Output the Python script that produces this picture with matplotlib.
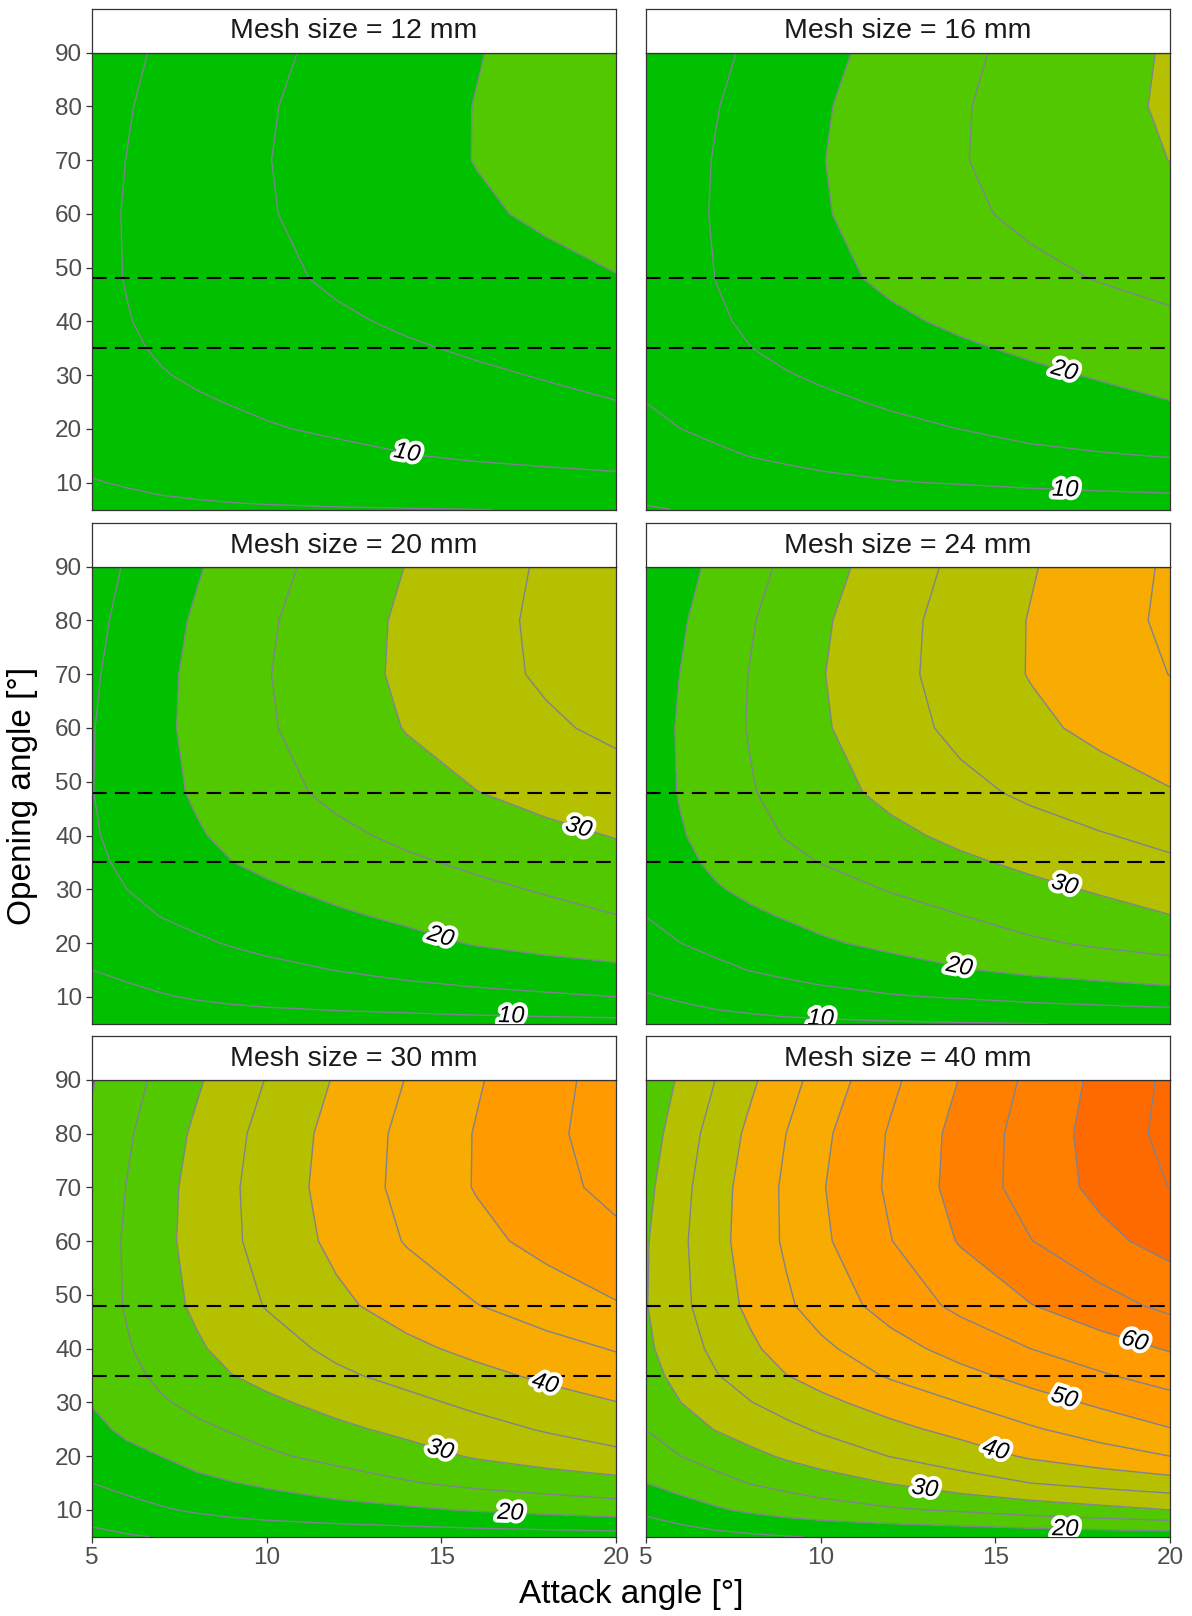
import matplotlib
matplotlib.use("Agg")
import matplotlib.pyplot as plt
import matplotlib.patheffects as pe
import numpy as np

plt.rcParams['font.family'] = ['Liberation Sans', 'DejaVu Sans']

# ---- data ----
mesh_sizes = [12, 16, 20, 24, 30, 40]
attack_angles = [5, 6, 7, 8, 9, 10, 12, 14, 16, 18, 20]
opening_angles = [5, 10, 15, 20, 25, 30, 35, 40, 48, 60, 70, 80, 90]

# contour value per mm of mesh size; rows = opening angle, cols = attack angle
value_per_mm = [
    [0.295, 0.320, 0.340, 0.355, 0.370, 0.380, 0.395, 0.405, 0.415, 0.422, 0.430],
    [0.400, 0.440, 0.485, 0.520, 0.550, 0.575, 0.610, 0.640, 0.680, 0.715, 0.750],
    [0.500, 0.550, 0.590, 0.630, 0.660, 0.690, 0.755, 0.820, 0.875, 0.915, 0.950],
    [0.565, 0.625, 0.668, 0.720, 0.765, 0.808, 0.878, 0.940, 1.015, 1.070, 1.125],
    [0.627, 0.697, 0.755, 0.803, 0.845, 0.889, 0.967, 1.037, 1.111, 1.180, 1.245],
    [0.675, 0.750, 0.818, 0.872, 0.923, 0.970, 1.052, 1.126, 1.203, 1.270, 1.330],
    [0.705, 0.790, 0.868, 0.935, 0.997, 1.045, 1.138, 1.215, 1.290, 1.362, 1.430],
    [0.727, 0.820, 0.902, 0.978, 1.051, 1.100, 1.203, 1.295, 1.375, 1.445, 1.510],
    [0.745, 0.846, 0.941, 1.028, 1.106, 1.175, 1.299, 1.403, 1.495, 1.576, 1.655],
    [0.740, 0.853, 0.959, 1.056, 1.140, 1.226, 1.371, 1.510, 1.621, 1.717, 1.795],
    [0.720, 0.838, 0.953, 1.050, 1.144, 1.239, 1.395, 1.546, 1.676, 1.781, 1.878],
    [0.690, 0.811, 0.926, 1.027, 1.124, 1.221, 1.387, 1.540, 1.675, 1.796, 1.911],
    [0.655, 0.769, 0.877, 0.980, 1.077, 1.173, 1.349, 1.505, 1.651, 1.781, 1.900],
]

fill_breaks = [0, 20, 30, 40, 50, 60, 70, 100]
fill_colors = ['#00c000', '#52c800', '#b5c000', '#f8ab00', '#ff9a00', '#ff8000', '#ff6a00']
line_levels = [5, 10, 15, 20, 25, 30, 35, 40, 45, 50, 55, 60, 65, 70, 75]
label_levels = [10, 20, 30, 40, 50, 60]
ref_openings = [35, 48]

# where the contour labels sit (attack, opening)
label_spots = {
    12: [(14.0, 14.9)],
    16: [(16.96, 30.5), (17.0, 8.7)],
    20: [(18.9, 40.9), (14.95, 20.6), (17.0, 5.9)],
    24: [(16.96, 30.3), (13.94, 14.7), (10.0, 5.9)],
    30: [(17.96, 33.3), (14.95, 20.8), (16.97, 9.0)],
    40: [(18.97, 41.0), (16.96, 30.5), (14.99, 20.8), (12.97, 13.4), (17.0, 6.0)],
}

# ---- layout (pixels) ----
W, H = 1192, 1616
fig = plt.figure(figsize=(W / 100, H / 100), dpi=100)
col_left = [92, 646]
panel_w = 524
row_top = [52.5, 566.7, 1079.8]
panel_h = 457
strip_h = 44

for i, mesh in enumerate(mesh_sizes):
    r, c = divmod(i, 2)
    x0, y0 = col_left[c], row_top[r]
    ax = fig.add_axes([x0 / W, 1 - (y0 + panel_h) / H, panel_w / W, panel_h / H])
    z = mesh * np.array(value_per_mm)

    ax.contourf(attack_angles, opening_angles, z, levels=fill_breaks, colors=fill_colors)
    ax.contour(attack_angles, opening_angles, z, levels=line_levels,
               colors='#7f8391', linewidths=1.0)
    for yv in ref_openings:
        ax.axhline(yv, color='black', lw=1.5, dashes=(7, 4))

    ax.set_xlim(5, 20)
    ax.set_ylim(5, 90)

    # separate invisible contour set just for the labels
    cs_lab = ax.contour(attack_angles, opening_angles, z, levels=label_levels,
                        colors='none', linewidths=0)
    texts = cs_lab.clabel(manual=label_spots[mesh], inline=False,
                          fmt='%d', fontsize=17, colors='black')
    for t in texts:
        t.set_fontstyle('italic')
        t.set_path_effects([pe.withStroke(linewidth=5.5, foreground='white')])
        t.set_clip_on(True)

    for s in ax.spines.values():
        s.set_color('#333333')
        s.set_linewidth(0.9)

    ax.tick_params(colors='#333333', labelcolor='#4d4d4d', labelsize=17.5,
                   length=4, width=0.9)
    if c == 0:
        ax.set_yticks([10, 20, 30, 40, 50, 60, 70, 80, 90])
        ax.tick_params(axis='y', pad=3)
    else:
        ax.set_yticks([])
    if r == 2:
        ax.set_xticks([5, 10, 15, 20])
        ax.tick_params(axis='x', pad=3)
    else:
        ax.set_xticks([])

    # facet strip
    sx = fig.add_axes([x0 / W, 1 - y0 / H, panel_w / W, strip_h / H])
    sx.set_facecolor('white')
    sx.set_xticks([])
    sx.set_yticks([])
    for s in sx.spines.values():
        s.set_color('#333333')
        s.set_linewidth(0.9)
    sx.text(0.5, 0.48, f'Mesh size = {mesh} mm', ha='center', va='center',
            fontsize=20.5, color='#1a1a1a', transform=sx.transAxes)

fig.text(22.7 / W, 1 - 796 / H, 'Opening angle [°]', rotation=90,
         ha='center', va='center', fontsize=24, color='black')
fig.text(631 / W, 1 - 1595 / H, 'Attack angle [°]', ha='center', va='center',
         fontsize=24, color='black')

fig.savefig('out.png', dpi=100, facecolor='white')
